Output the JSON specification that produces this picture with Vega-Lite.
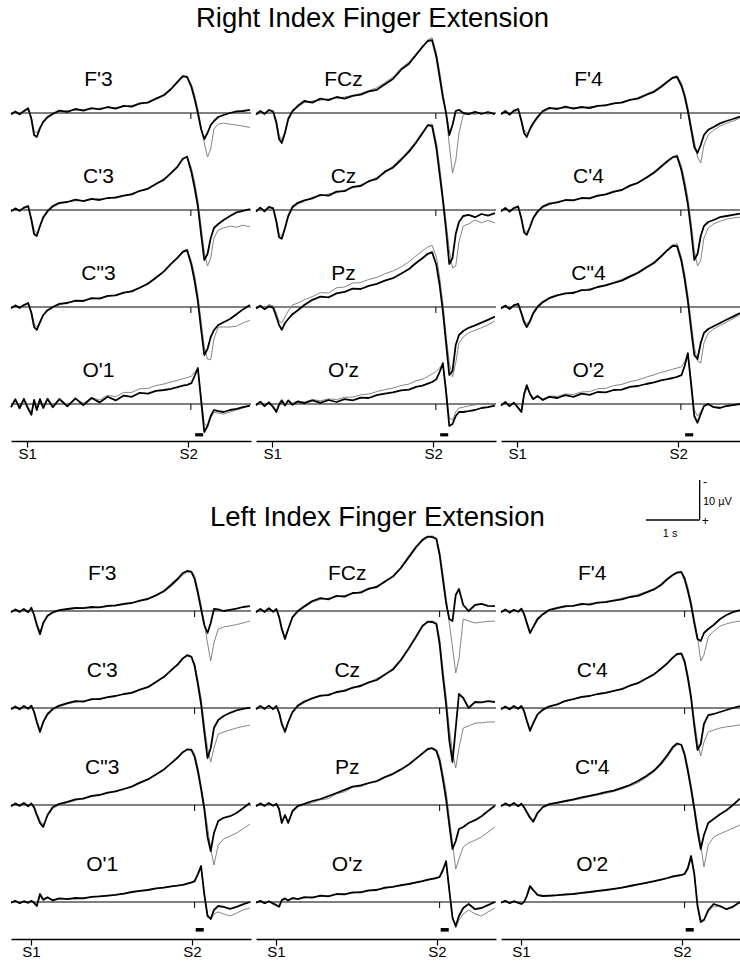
{
"$schema":"https://vega.github.io/schema/vega-lite/v6.json",
"background":"white",
"padding":{"left":10,"top":5,"right":0,"bottom":0},
"spacing":14,
"config":{"view":{"stroke":null},"font":"Liberation Sans","axis":{"grid":false}},
"datasets":{
"right":[
{"r":1,"c":1,"e":"F'3"},{"r":1,"c":2,"e":"FCz"},{"r":1,"c":3,"e":"F'4"},
{"r":2,"c":1,"e":"C'3"},{"r":2,"c":2,"e":"Cz"},{"r":2,"c":3,"e":"C'4"},
{"r":3,"c":1,"e":"C\"3"},{"r":3,"c":2,"e":"Pz"},{"r":3,"c":3,"e":"C\"4"},
{"r":4,"c":1,"e":"O'1"},{"r":4,"c":2,"e":"O'z"},{"r":4,"c":3,"e":"O'2"},
{"r":1,"c":1,"t":-0.3,"a":0.3,"b":0.1},{"r":1,"c":1,"t":-0.22,"a":-0.4,"b":-0.2},{"r":1,"c":1,"t":-0.14,"a":0.3,"b":0.5},{"r":1,"c":1,"t":-0.06,"a":-0.5,"b":-0.3},{"r":1,"c":1,"t":0.02,"a":-1.2,"b":-0.9},{"r":1,"c":1,"t":0.08,"a":1.5,"b":1.2},{"r":1,"c":1,"t":0.13,"a":5.5,"b":4.5},{"r":1,"c":1,"t":0.18,"a":6,"b":5},{"r":1,"c":1,"t":0.24,"a":3.8,"b":3.5},{"r":1,"c":1,"t":0.3,"a":2.2,"b":2.4},{"r":1,"c":1,"t":0.38,"a":1.0,"b":1.3},{"r":1,"c":1,"t":0.48,"a":0.2,"b":0.4},{"r":1,"c":1,"t":0.6,"a":-0.6,"b":-0.3},{"r":1,"c":1,"t":0.75,"a":-0.3,"b":-0.6},{"r":1,"c":1,"t":0.9,"a":-1.0,"b":-0.7},{"r":1,"c":1,"t":1.05,"a":-0.6,"b":-0.9},{"r":1,"c":1,"t":1.2,"a":-1.2,"b":-1.0},{"r":1,"c":1,"t":1.35,"a":-0.9,"b":-1.2},{"r":1,"c":1,"t":1.5,"a":-1.5,"b":-1.3},{"r":1,"c":1,"t":1.65,"a":-1.1,"b":-1.4},{"r":1,"c":1,"t":1.8,"a":-1.8,"b":-1.6},{"r":1,"c":1,"t":1.95,"a":-1.6,"b":-1.9},{"r":1,"c":1,"t":2.1,"a":-2.4,"b":-2.2},{"r":1,"c":1,"t":2.25,"a":-2.6,"b":-2.8},{"r":1,"c":1,"t":2.4,"a":-3.6,"b":-3.4},{"r":1,"c":1,"t":2.55,"a":-4.5,"b":-4.3},{"r":1,"c":1,"t":2.68,"a":-6.0,"b":-5.8},{"r":1,"c":1,"t":2.8,"a":-7.8,"b":-7.5},{"r":1,"c":1,"t":2.9,"a":-9.2,"b":-9.0},{"r":1,"c":1,"t":2.98,"a":-9.0,"b":-9.2},{"r":1,"c":1,"t":3.06,"a":-6.5,"b":-7.2},{"r":1,"c":1,"t":3.12,"a":-3.5,"b":-4.5},{"r":1,"c":1,"t":3.18,"a":0,"b":-1.0},{"r":1,"c":1,"t":3.24,"a":4,"b":3.5},{"r":1,"c":1,"t":3.3,"a":6.5,"b":7.5},{"r":1,"c":1,"t":3.36,"a":5,"b":11},{"r":1,"c":1,"t":3.42,"a":3,"b":9},{"r":1,"c":1,"t":3.48,"a":2,"b":4},{"r":1,"c":1,"t":3.56,"a":1,"b":2.8},{"r":1,"c":1,"t":3.66,"a":0.5,"b":2.5},{"r":1,"c":1,"t":3.78,"a":0,"b":2.8},{"r":1,"c":1,"t":3.9,"a":-0.4,"b":3},{"r":1,"c":1,"t":4.02,"a":-0.5,"b":3.3},{"r":1,"c":1,"t":4.15,"a":-0.8,"b":3.6},
{"r":1,"c":2,"t":-0.3,"a":0.4,"b":0.1},{"r":1,"c":2,"t":-0.22,"a":-0.5,"b":-0.2},{"r":1,"c":2,"t":-0.14,"a":0.2,"b":0.4},{"r":1,"c":2,"t":-0.06,"a":-0.8,"b":-0.5},{"r":1,"c":2,"t":0.02,"a":-0.3,"b":-0.6},{"r":1,"c":2,"t":0.08,"a":2.5,"b":2.0},{"r":1,"c":2,"t":0.13,"a":6.5,"b":5.5},{"r":1,"c":2,"t":0.18,"a":7.5,"b":6.8},{"r":1,"c":2,"t":0.24,"a":5,"b":4.5},{"r":1,"c":2,"t":0.3,"a":1.5,"b":1.8},{"r":1,"c":2,"t":0.38,"a":-0.5,"b":-0.2},{"r":1,"c":2,"t":0.48,"a":-1.8,"b":-1.5},{"r":1,"c":2,"t":0.6,"a":-3.0,"b":-2.6},{"r":1,"c":2,"t":0.75,"a":-2.6,"b":-3.0},{"r":1,"c":2,"t":0.9,"a":-3.6,"b":-3.2},{"r":1,"c":2,"t":1.05,"a":-3.2,"b":-3.5},{"r":1,"c":2,"t":1.2,"a":-4.0,"b":-3.7},{"r":1,"c":2,"t":1.35,"a":-3.6,"b":-4.0},{"r":1,"c":2,"t":1.5,"a":-4.3,"b":-4.4},{"r":1,"c":2,"t":1.65,"a":-4.6,"b":-4.9},{"r":1,"c":2,"t":1.8,"a":-5.4,"b":-5.6},{"r":1,"c":2,"t":1.95,"a":-5.8,"b":-6.3},{"r":1,"c":2,"t":2.1,"a":-7.2,"b":-7.6},{"r":1,"c":2,"t":2.25,"a":-8.5,"b":-9.0},{"r":1,"c":2,"t":2.4,"a":-10.8,"b":-11.2},{"r":1,"c":2,"t":2.55,"a":-12.3,"b":-12.8},{"r":1,"c":2,"t":2.68,"a":-14.5,"b":-14.8},{"r":1,"c":2,"t":2.8,"a":-16.5,"b":-16.8},{"r":1,"c":2,"t":2.9,"a":-18,"b":-18.3},{"r":1,"c":2,"t":2.98,"a":-18.2,"b":-18.8},{"r":1,"c":2,"t":3.06,"a":-14,"b":-15},{"r":1,"c":2,"t":3.12,"a":-9,"b":-10.5},{"r":1,"c":2,"t":3.18,"a":-4,"b":-5},{"r":1,"c":2,"t":3.24,"a":0,"b":0},{"r":1,"c":2,"t":3.3,"a":5.5,"b":8},{"r":1,"c":2,"t":3.36,"a":3,"b":15},{"r":1,"c":2,"t":3.42,"a":-0.5,"b":12},{"r":1,"c":2,"t":3.48,"a":-0.8,"b":5},{"r":1,"c":2,"t":3.56,"a":0,"b":0.5},{"r":1,"c":2,"t":3.66,"a":0.3,"b":0},{"r":1,"c":2,"t":3.78,"a":-0.3,"b":0.4},{"r":1,"c":2,"t":3.9,"a":0.2,"b":-0.2},{"r":1,"c":2,"t":4.02,"a":-0.2,"b":0.3},{"r":1,"c":2,"t":4.15,"a":0.3,"b":0},
{"r":1,"c":3,"t":-0.3,"a":0.3,"b":0.0},{"r":1,"c":3,"t":-0.22,"a":-0.5,"b":-0.3},{"r":1,"c":3,"t":-0.14,"a":0.4,"b":0.5},{"r":1,"c":3,"t":-0.06,"a":-0.6,"b":-0.2},{"r":1,"c":3,"t":0.02,"a":-1.0,"b":-0.7},{"r":1,"c":3,"t":0.08,"a":2.0,"b":1.6},{"r":1,"c":3,"t":0.13,"a":5.0,"b":4.2},{"r":1,"c":3,"t":0.18,"a":6.0,"b":5.2},{"r":1,"c":3,"t":0.24,"a":4.0,"b":4.2},{"r":1,"c":3,"t":0.3,"a":2.5,"b":2.8},{"r":1,"c":3,"t":0.38,"a":1.0,"b":1.4},{"r":1,"c":3,"t":0.48,"a":-0.5,"b":-0.2},{"r":1,"c":3,"t":0.6,"a":-1.3,"b":-1.0},{"r":1,"c":3,"t":0.75,"a":-1.0,"b":-1.3},{"r":1,"c":3,"t":0.9,"a":-1.6,"b":-1.2},{"r":1,"c":3,"t":1.05,"a":-1.1,"b":-1.4},{"r":1,"c":3,"t":1.2,"a":-1.5,"b":-1.3},{"r":1,"c":3,"t":1.35,"a":-1.2,"b":-1.6},{"r":1,"c":3,"t":1.5,"a":-1.8,"b":-1.7},{"r":1,"c":3,"t":1.65,"a":-1.9,"b":-2.1},{"r":1,"c":3,"t":1.8,"a":-2.4,"b":-2.3},{"r":1,"c":3,"t":1.95,"a":-2.6,"b":-2.8},{"r":1,"c":3,"t":2.1,"a":-3.3,"b":-3.2},{"r":1,"c":3,"t":2.25,"a":-3.6,"b":-3.9},{"r":1,"c":3,"t":2.4,"a":-4.5,"b":-4.7},{"r":1,"c":3,"t":2.55,"a":-5.3,"b":-5.6},{"r":1,"c":3,"t":2.68,"a":-6.5,"b":-6.8},{"r":1,"c":3,"t":2.8,"a":-7.8,"b":-8.0},{"r":1,"c":3,"t":2.9,"a":-8.8,"b":-9.0},{"r":1,"c":3,"t":2.98,"a":-9.0,"b":-9.3},{"r":1,"c":3,"t":3.06,"a":-6.8,"b":-7.5},{"r":1,"c":3,"t":3.12,"a":-4.2,"b":-5.0},{"r":1,"c":3,"t":3.18,"a":-0.5,"b":-1.5},{"r":1,"c":3,"t":3.24,"a":4,"b":3},{"r":1,"c":3,"t":3.3,"a":8.5,"b":7},{"r":1,"c":3,"t":3.36,"a":10,"b":11},{"r":1,"c":3,"t":3.42,"a":8,"b":12.5},{"r":1,"c":3,"t":3.48,"a":5.5,"b":8},{"r":1,"c":3,"t":3.56,"a":4.2,"b":5.5},{"r":1,"c":3,"t":3.66,"a":3.5,"b":4.3},{"r":1,"c":3,"t":3.78,"a":2.6,"b":3.3},{"r":1,"c":3,"t":3.9,"a":2.0,"b":2.6},{"r":1,"c":3,"t":4.02,"a":1.5,"b":2.0},{"r":1,"c":3,"t":4.15,"a":0.9,"b":1.3},
{"r":2,"c":1,"t":-0.3,"a":0.3,"b":0.1},{"r":2,"c":1,"t":-0.22,"a":-0.4,"b":-0.2},{"r":2,"c":1,"t":-0.14,"a":0.2,"b":0.4},{"r":2,"c":1,"t":-0.06,"a":-0.6,"b":-0.4},{"r":2,"c":1,"t":0.02,"a":-1.0,"b":-0.7},{"r":2,"c":1,"t":0.08,"a":2.5,"b":2.0},{"r":2,"c":1,"t":0.13,"a":6.0,"b":5.0},{"r":2,"c":1,"t":0.18,"a":6.5,"b":5.8},{"r":2,"c":1,"t":0.24,"a":4.0,"b":4.2},{"r":2,"c":1,"t":0.3,"a":1.8,"b":2.2},{"r":2,"c":1,"t":0.38,"a":0.3,"b":0.6},{"r":2,"c":1,"t":0.48,"a":-1.0,"b":-0.7},{"r":2,"c":1,"t":0.6,"a":-1.8,"b":-1.5},{"r":2,"c":1,"t":0.75,"a":-2.0,"b":-2.1},{"r":2,"c":1,"t":0.9,"a":-2.6,"b":-2.3},{"r":2,"c":1,"t":1.05,"a":-2.2,"b":-2.4},{"r":2,"c":1,"t":1.2,"a":-2.8,"b":-2.6},{"r":2,"c":1,"t":1.35,"a":-2.5,"b":-2.8},{"r":2,"c":1,"t":1.5,"a":-3.0,"b":-3.0},{"r":2,"c":1,"t":1.65,"a":-3.1,"b":-3.3},{"r":2,"c":1,"t":1.8,"a":-3.6,"b":-3.6},{"r":2,"c":1,"t":1.95,"a":-3.9,"b":-4.1},{"r":2,"c":1,"t":2.1,"a":-4.8,"b":-4.7},{"r":2,"c":1,"t":2.25,"a":-5.3,"b":-5.5},{"r":2,"c":1,"t":2.4,"a":-6.5,"b":-6.6},{"r":2,"c":1,"t":2.55,"a":-7.6,"b":-7.8},{"r":2,"c":1,"t":2.68,"a":-9.2,"b":-9.3},{"r":2,"c":1,"t":2.8,"a":-10.8,"b":-11.0},{"r":2,"c":1,"t":2.9,"a":-12.8,"b":-12.6},{"r":2,"c":1,"t":2.98,"a":-13.3,"b":-13.4},{"r":2,"c":1,"t":3.06,"a":-9.5,"b":-10.5},{"r":2,"c":1,"t":3.12,"a":-5.5,"b":-7.0},{"r":2,"c":1,"t":3.18,"a":-1.0,"b":-2.5},{"r":2,"c":1,"t":3.24,"a":6,"b":4},{"r":2,"c":1,"t":3.3,"a":12.5,"b":10.5},{"r":2,"c":1,"t":3.36,"a":11,"b":14},{"r":2,"c":1,"t":3.42,"a":7,"b":12},{"r":2,"c":1,"t":3.48,"a":4.5,"b":7},{"r":2,"c":1,"t":3.56,"a":3.5,"b":5},{"r":2,"c":1,"t":3.66,"a":2.5,"b":4.5},{"r":2,"c":1,"t":3.78,"a":1.5,"b":4.0},{"r":2,"c":1,"t":3.9,"a":0.6,"b":4.3},{"r":2,"c":1,"t":4.02,"a":0.2,"b":3.8},{"r":2,"c":1,"t":4.15,"a":-0.2,"b":4.2},
{"r":2,"c":2,"t":-0.3,"a":0.4,"b":0.2},{"r":2,"c":2,"t":-0.22,"a":-0.6,"b":-0.3},{"r":2,"c":2,"t":-0.14,"a":0.3,"b":0.5},{"r":2,"c":2,"t":-0.06,"a":-0.8,"b":-0.5},{"r":2,"c":2,"t":0.02,"a":-0.4,"b":-0.6},{"r":2,"c":2,"t":0.08,"a":3.0,"b":2.4},{"r":2,"c":2,"t":0.13,"a":6.8,"b":6.0},{"r":2,"c":2,"t":0.18,"a":7.2,"b":6.6},{"r":2,"c":2,"t":0.24,"a":4.5,"b":4.6},{"r":2,"c":2,"t":0.3,"a":1.5,"b":1.8},{"r":2,"c":2,"t":0.38,"a":-0.8,"b":-0.4},{"r":2,"c":2,"t":0.48,"a":-1.8,"b":-1.5},{"r":2,"c":2,"t":0.6,"a":-2.4,"b":-2.2},{"r":2,"c":2,"t":0.75,"a":-2.9,"b":-3.2},{"r":2,"c":2,"t":0.9,"a":-3.8,"b":-3.5},{"r":2,"c":2,"t":1.05,"a":-3.6,"b":-4.0},{"r":2,"c":2,"t":1.2,"a":-4.6,"b":-4.3},{"r":2,"c":2,"t":1.35,"a":-4.7,"b":-5.0},{"r":2,"c":2,"t":1.5,"a":-5.8,"b":-5.5},{"r":2,"c":2,"t":1.65,"a":-6.0,"b":-6.3},{"r":2,"c":2,"t":1.8,"a":-7.2,"b":-7.0},{"r":2,"c":2,"t":1.95,"a":-7.8,"b":-8.2},{"r":2,"c":2,"t":2.1,"a":-9.6,"b":-9.2},{"r":2,"c":2,"t":2.25,"a":-10.6,"b":-11.0},{"r":2,"c":2,"t":2.4,"a":-12.5,"b":-12.9},{"r":2,"c":2,"t":2.55,"a":-14.6,"b":-15.0},{"r":2,"c":2,"t":2.68,"a":-16.8,"b":-17.2},{"r":2,"c":2,"t":2.8,"a":-19.2,"b":-19.5},{"r":2,"c":2,"t":2.9,"a":-21.2,"b":-21.2},{"r":2,"c":2,"t":2.98,"a":-21.0,"b":-21.5},{"r":2,"c":2,"t":3.06,"a":-15.5,"b":-17},{"r":2,"c":2,"t":3.12,"a":-9,"b":-11},{"r":2,"c":2,"t":3.18,"a":-2.5,"b":-4},{"r":2,"c":2,"t":3.24,"a":5,"b":3},{"r":2,"c":2,"t":3.3,"a":13.5,"b":10},{"r":2,"c":2,"t":3.36,"a":12,"b":14.5},{"r":2,"c":2,"t":3.42,"a":6,"b":14},{"r":2,"c":2,"t":3.48,"a":3,"b":8},{"r":2,"c":2,"t":3.56,"a":1.5,"b":4},{"r":2,"c":2,"t":3.66,"a":1.2,"b":3.5},{"r":2,"c":2,"t":3.78,"a":1.8,"b":2.5},{"r":2,"c":2,"t":3.9,"a":1.0,"b":3.2},{"r":2,"c":2,"t":4.02,"a":1.4,"b":2.6},{"r":2,"c":2,"t":4.15,"a":0.8,"b":3.2},
{"r":2,"c":3,"t":-0.3,"a":0.3,"b":0.1},{"r":2,"c":3,"t":-0.22,"a":-0.5,"b":-0.2},{"r":2,"c":3,"t":-0.14,"a":0.4,"b":0.5},{"r":2,"c":3,"t":-0.06,"a":-0.5,"b":-0.3},{"r":2,"c":3,"t":0.02,"a":-0.9,"b":-0.6},{"r":2,"c":3,"t":0.08,"a":2.2,"b":1.8},{"r":2,"c":3,"t":0.13,"a":5.6,"b":4.8},{"r":2,"c":3,"t":0.18,"a":6.2,"b":5.6},{"r":2,"c":3,"t":0.24,"a":4.2,"b":4.4},{"r":2,"c":3,"t":0.3,"a":2.0,"b":2.3},{"r":2,"c":3,"t":0.38,"a":0.4,"b":0.7},{"r":2,"c":3,"t":0.48,"a":-0.9,"b":-0.6},{"r":2,"c":3,"t":0.6,"a":-1.6,"b":-1.3},{"r":2,"c":3,"t":0.75,"a":-1.9,"b":-2.1},{"r":2,"c":3,"t":0.9,"a":-2.5,"b":-2.3},{"r":2,"c":3,"t":1.05,"a":-2.4,"b":-2.6},{"r":2,"c":3,"t":1.2,"a":-3.0,"b":-2.8},{"r":2,"c":3,"t":1.35,"a":-2.9,"b":-3.1},{"r":2,"c":3,"t":1.5,"a":-3.6,"b":-3.4},{"r":2,"c":3,"t":1.65,"a":-3.9,"b":-3.8},{"r":2,"c":3,"t":1.8,"a":-4.6,"b":-4.4},{"r":2,"c":3,"t":1.95,"a":-5.0,"b":-5.1},{"r":2,"c":3,"t":2.1,"a":-6.1,"b":-5.9},{"r":2,"c":3,"t":2.25,"a":-6.8,"b":-6.9},{"r":2,"c":3,"t":2.4,"a":-8.0,"b":-8.2},{"r":2,"c":3,"t":2.55,"a":-9.3,"b":-9.6},{"r":2,"c":3,"t":2.68,"a":-10.8,"b":-11.0},{"r":2,"c":3,"t":2.8,"a":-12.2,"b":-12.4},{"r":2,"c":3,"t":2.9,"a":-13.2,"b":-13.3},{"r":2,"c":3,"t":2.98,"a":-13.4,"b":-13.8},{"r":2,"c":3,"t":3.06,"a":-10,"b":-11},{"r":2,"c":3,"t":3.12,"a":-6,"b":-7.5},{"r":2,"c":3,"t":3.18,"a":-1.5,"b":-3},{"r":2,"c":3,"t":3.24,"a":5,"b":3},{"r":2,"c":3,"t":3.3,"a":12.5,"b":10},{"r":2,"c":3,"t":3.36,"a":11,"b":14},{"r":2,"c":3,"t":3.42,"a":6.5,"b":12.5},{"r":2,"c":3,"t":3.48,"a":4,"b":7},{"r":2,"c":3,"t":3.56,"a":3,"b":4.5},{"r":2,"c":3,"t":3.66,"a":2.5,"b":3.5},{"r":2,"c":3,"t":3.78,"a":1.8,"b":2.8},{"r":2,"c":3,"t":3.9,"a":1.5,"b":2.3},{"r":2,"c":3,"t":4.02,"a":1.2,"b":2.0},{"r":2,"c":3,"t":4.15,"a":0.9,"b":1.8},
{"r":3,"c":1,"t":-0.3,"a":0.3,"b":0.1},{"r":3,"c":1,"t":-0.22,"a":-0.4,"b":-0.2},{"r":3,"c":1,"t":-0.14,"a":0.2,"b":0.4},{"r":3,"c":1,"t":-0.06,"a":-0.5,"b":-0.3},{"r":3,"c":1,"t":0.02,"a":-1.0,"b":-0.7},{"r":3,"c":1,"t":0.08,"a":1.5,"b":1.2},{"r":3,"c":1,"t":0.13,"a":5.0,"b":4.2},{"r":3,"c":1,"t":0.18,"a":5.7,"b":5.0},{"r":3,"c":1,"t":0.24,"a":3.8,"b":4.0},{"r":3,"c":1,"t":0.3,"a":2.0,"b":2.2},{"r":3,"c":1,"t":0.38,"a":0.8,"b":1.0},{"r":3,"c":1,"t":0.48,"a":0.0,"b":0.2},{"r":3,"c":1,"t":0.6,"a":-0.8,"b":-0.5},{"r":3,"c":1,"t":0.75,"a":-1.0,"b":-1.2},{"r":3,"c":1,"t":0.9,"a":-1.6,"b":-1.4},{"r":3,"c":1,"t":1.05,"a":-1.5,"b":-1.7},{"r":3,"c":1,"t":1.2,"a":-2.2,"b":-2.0},{"r":3,"c":1,"t":1.35,"a":-2.1,"b":-2.3},{"r":3,"c":1,"t":1.5,"a":-2.8,"b":-2.6},{"r":3,"c":1,"t":1.65,"a":-2.9,"b":-3.0},{"r":3,"c":1,"t":1.8,"a":-3.6,"b":-3.5},{"r":3,"c":1,"t":1.95,"a":-3.9,"b":-4.1},{"r":3,"c":1,"t":2.1,"a":-4.8,"b":-4.9},{"r":3,"c":1,"t":2.25,"a":-5.8,"b":-6.0},{"r":3,"c":1,"t":2.4,"a":-7.3,"b":-7.5},{"r":3,"c":1,"t":2.55,"a":-8.9,"b":-9.0},{"r":3,"c":1,"t":2.68,"a":-10.8,"b":-10.9},{"r":3,"c":1,"t":2.8,"a":-12.3,"b":-12.5},{"r":3,"c":1,"t":2.9,"a":-13.8,"b":-13.9},{"r":3,"c":1,"t":2.98,"a":-14.2,"b":-14.5},{"r":3,"c":1,"t":3.06,"a":-10.5,"b":-11.5},{"r":3,"c":1,"t":3.12,"a":-6.5,"b":-8},{"r":3,"c":1,"t":3.18,"a":-1.5,"b":-3},{"r":3,"c":1,"t":3.24,"a":5.5,"b":3.5},{"r":3,"c":1,"t":3.3,"a":12,"b":10},{"r":3,"c":1,"t":3.36,"a":10.5,"b":13},{"r":3,"c":1,"t":3.42,"a":7.5,"b":13.2},{"r":3,"c":1,"t":3.48,"a":5.8,"b":8},{"r":3,"c":1,"t":3.56,"a":4.5,"b":5},{"r":3,"c":1,"t":3.66,"a":3.8,"b":5},{"r":3,"c":1,"t":3.78,"a":3.0,"b":5},{"r":3,"c":1,"t":3.9,"a":1.8,"b":4.8},{"r":3,"c":1,"t":4.02,"a":0.6,"b":4},{"r":3,"c":1,"t":4.15,"a":-0.5,"b":3.3},
{"r":3,"c":2,"t":-0.3,"a":0.4,"b":0.2},{"r":3,"c":2,"t":-0.22,"a":-0.3,"b":-0.5},{"r":3,"c":2,"t":-0.14,"a":0.6,"b":0.3},{"r":3,"c":2,"t":-0.06,"a":-0.2,"b":-0.6},{"r":3,"c":2,"t":0.02,"a":0.2,"b":-0.3},{"r":3,"c":2,"t":0.08,"a":2.5,"b":1.5},{"r":3,"c":2,"t":0.13,"a":4.5,"b":3.5},{"r":3,"c":2,"t":0.18,"a":5.7,"b":4.0},{"r":3,"c":2,"t":0.24,"a":4.0,"b":2.5},{"r":3,"c":2,"t":0.3,"a":3.0,"b":1.0},{"r":3,"c":2,"t":0.38,"a":1.8,"b":-0.5},{"r":3,"c":2,"t":0.48,"a":0.8,"b":-1.0},{"r":3,"c":2,"t":0.6,"a":-0.5,"b":-1.8},{"r":3,"c":2,"t":0.75,"a":-1.8,"b":-2.6},{"r":3,"c":2,"t":0.9,"a":-2.6,"b":-3.6},{"r":3,"c":2,"t":1.05,"a":-2.4,"b":-3.5},{"r":3,"c":2,"t":1.2,"a":-3.4,"b":-4.8},{"r":3,"c":2,"t":1.35,"a":-3.8,"b":-5.0},{"r":3,"c":2,"t":1.5,"a":-4.6,"b":-6.0},{"r":3,"c":2,"t":1.65,"a":-4.5,"b":-6.1},{"r":3,"c":2,"t":1.8,"a":-5.3,"b":-6.9},{"r":3,"c":2,"t":1.95,"a":-5.8,"b":-7.4},{"r":3,"c":2,"t":2.1,"a":-6.6,"b":-8.3},{"r":3,"c":2,"t":2.25,"a":-7.2,"b":-9.0},{"r":3,"c":2,"t":2.4,"a":-8.3,"b":-10.0},{"r":3,"c":2,"t":2.55,"a":-9.5,"b":-11.3},{"r":3,"c":2,"t":2.68,"a":-11.0,"b":-12.8},{"r":3,"c":2,"t":2.8,"a":-12.2,"b":-14.0},{"r":3,"c":2,"t":2.9,"a":-13.3,"b":-15.0},{"r":3,"c":2,"t":2.98,"a":-13.7,"b":-15.4},{"r":3,"c":2,"t":3.06,"a":-10.5,"b":-12.5},{"r":3,"c":2,"t":3.12,"a":-5.5,"b":-7.5},{"r":3,"c":2,"t":3.18,"a":1,"b":-1},{"r":3,"c":2,"t":3.24,"a":9,"b":7},{"r":3,"c":2,"t":3.3,"a":17,"b":14},{"r":3,"c":2,"t":3.36,"a":16,"b":17.5},{"r":3,"c":2,"t":3.42,"a":9.5,"b":14},{"r":3,"c":2,"t":3.48,"a":7,"b":9},{"r":3,"c":2,"t":3.56,"a":6,"b":7.5},{"r":3,"c":2,"t":3.66,"a":5.2,"b":6.5},{"r":3,"c":2,"t":3.78,"a":4.6,"b":5.8},{"r":3,"c":2,"t":3.9,"a":3.9,"b":5.2},{"r":3,"c":2,"t":4.02,"a":3.2,"b":4.5},{"r":3,"c":2,"t":4.15,"a":2.4,"b":3.5},
{"r":3,"c":3,"t":-0.3,"a":0.4,"b":0.1},{"r":3,"c":3,"t":-0.22,"a":-0.3,"b":-0.5},{"r":3,"c":3,"t":-0.14,"a":0.5,"b":0.2},{"r":3,"c":3,"t":-0.06,"a":-0.4,"b":-0.6},{"r":3,"c":3,"t":0.02,"a":-0.8,"b":-0.5},{"r":3,"c":3,"t":0.08,"a":1.6,"b":1.2},{"r":3,"c":3,"t":0.13,"a":3.8,"b":3.2},{"r":3,"c":3,"t":0.18,"a":5.0,"b":4.3},{"r":3,"c":3,"t":0.24,"a":3.6,"b":3.2},{"r":3,"c":3,"t":0.3,"a":1.6,"b":1.2},{"r":3,"c":3,"t":0.38,"a":0.0,"b":-0.4},{"r":3,"c":3,"t":0.48,"a":-1.2,"b":-1.5},{"r":3,"c":3,"t":0.6,"a":-2.2,"b":-2.4},{"r":3,"c":3,"t":0.75,"a":-2.9,"b":-3.1},{"r":3,"c":3,"t":0.9,"a":-3.4,"b":-3.3},{"r":3,"c":3,"t":1.05,"a":-3.5,"b":-3.8},{"r":3,"c":3,"t":1.2,"a":-4.2,"b":-4.1},{"r":3,"c":3,"t":1.35,"a":-4.3,"b":-4.6},{"r":3,"c":3,"t":1.5,"a":-5.0,"b":-4.9},{"r":3,"c":3,"t":1.65,"a":-5.4,"b":-5.6},{"r":3,"c":3,"t":1.8,"a":-6.0,"b":-6.2},{"r":3,"c":3,"t":1.95,"a":-6.6,"b":-6.9},{"r":3,"c":3,"t":2.1,"a":-7.6,"b":-7.8},{"r":3,"c":3,"t":2.25,"a":-8.5,"b":-8.8},{"r":3,"c":3,"t":2.4,"a":-9.8,"b":-10.0},{"r":3,"c":3,"t":2.55,"a":-11.0,"b":-11.3},{"r":3,"c":3,"t":2.68,"a":-12.6,"b":-12.9},{"r":3,"c":3,"t":2.8,"a":-14.2,"b":-14.4},{"r":3,"c":3,"t":2.9,"a":-15.3,"b":-15.6},{"r":3,"c":3,"t":2.98,"a":-15.2,"b":-15.8},{"r":3,"c":3,"t":3.06,"a":-11.5,"b":-12.5},{"r":3,"c":3,"t":3.12,"a":-7,"b":-8.5},{"r":3,"c":3,"t":3.18,"a":-1.5,"b":-3},{"r":3,"c":3,"t":3.24,"a":5.5,"b":3.5},{"r":3,"c":3,"t":3.3,"a":12,"b":10},{"r":3,"c":3,"t":3.36,"a":13,"b":13.5},{"r":3,"c":3,"t":3.42,"a":9,"b":14},{"r":3,"c":3,"t":3.48,"a":6.5,"b":9},{"r":3,"c":3,"t":3.56,"a":5.5,"b":6.5},{"r":3,"c":3,"t":3.66,"a":4.8,"b":5.5},{"r":3,"c":3,"t":3.78,"a":4.0,"b":4.6},{"r":3,"c":3,"t":3.9,"a":3.2,"b":3.8},{"r":3,"c":3,"t":4.02,"a":2.4,"b":2.9},{"r":3,"c":3,"t":4.15,"a":1.5,"b":2.0},
{"r":4,"c":1,"t":-0.3,"a":0.8,"b":0.5},{"r":4,"c":1,"t":-0.22,"a":-1.2,"b":-0.9},{"r":4,"c":1,"t":-0.14,"a":1.0,"b":1.3},{"r":4,"c":1,"t":-0.06,"a":-1.3,"b":-1.0},{"r":4,"c":1,"t":0.02,"a":1.2,"b":0.8},{"r":4,"c":1,"t":0.08,"a":2.7,"b":2.2},{"r":4,"c":1,"t":0.13,"a":-1.0,"b":-0.6},{"r":4,"c":1,"t":0.18,"a":1.5,"b":1.2},{"r":4,"c":1,"t":0.24,"a":-1.2,"b":-1.4},{"r":4,"c":1,"t":0.3,"a":1.0,"b":0.7},{"r":4,"c":1,"t":0.38,"a":-1.3,"b":-1.0},{"r":4,"c":1,"t":0.48,"a":0.8,"b":0.5},{"r":4,"c":1,"t":0.6,"a":-1.2,"b":-1.5},{"r":4,"c":1,"t":0.75,"a":0.6,"b":0.2},{"r":4,"c":1,"t":0.9,"a":-1.4,"b":-1.2},{"r":4,"c":1,"t":1.05,"a":0.3,"b":-0.2},{"r":4,"c":1,"t":1.2,"a":-1.5,"b":-1.6},{"r":4,"c":1,"t":1.35,"a":-0.4,"b":-1.0},{"r":4,"c":1,"t":1.5,"a":-1.8,"b":-2.2},{"r":4,"c":1,"t":1.65,"a":-0.9,"b":-1.8},{"r":4,"c":1,"t":1.8,"a":-2.1,"b":-2.9},{"r":4,"c":1,"t":1.95,"a":-1.8,"b":-2.9},{"r":4,"c":1,"t":2.1,"a":-2.8,"b":-3.8},{"r":4,"c":1,"t":2.25,"a":-2.6,"b":-3.9},{"r":4,"c":1,"t":2.4,"a":-3.3,"b":-4.6},{"r":4,"c":1,"t":2.55,"a":-3.5,"b":-5.0},{"r":4,"c":1,"t":2.68,"a":-3.8,"b":-5.5},{"r":4,"c":1,"t":2.8,"a":-4.2,"b":-5.9},{"r":4,"c":1,"t":2.9,"a":-4.6,"b":-6.3},{"r":4,"c":1,"t":2.98,"a":-4.8,"b":-6.6},{"r":4,"c":1,"t":3.06,"a":-5.2,"b":-6.9},{"r":4,"c":1,"t":3.12,"a":-7.0,"b":-8.0},{"r":4,"c":1,"t":3.18,"a":-9.0,"b":-8.8},{"r":4,"c":1,"t":3.24,"a":-1,"b":-2},{"r":4,"c":1,"t":3.3,"a":7,"b":5},{"r":4,"c":1,"t":3.36,"a":5.5,"b":5.5},{"r":4,"c":1,"t":3.42,"a":3,"b":3.5},{"r":4,"c":1,"t":3.48,"a":1.5,"b":2},{"r":4,"c":1,"t":3.56,"a":1.8,"b":2.3},{"r":4,"c":1,"t":3.66,"a":2.0,"b":2.5},{"r":4,"c":1,"t":3.78,"a":1.5,"b":2.0},{"r":4,"c":1,"t":3.9,"a":1.2,"b":1.5},{"r":4,"c":1,"t":4.02,"a":0.8,"b":1.0},{"r":4,"c":1,"t":4.15,"a":0.4,"b":0.5},
{"r":4,"c":2,"t":-0.3,"a":0.3,"b":0.1},{"r":4,"c":2,"t":-0.22,"a":-0.6,"b":-0.3},{"r":4,"c":2,"t":-0.14,"a":0.5,"b":0.7},{"r":4,"c":2,"t":-0.06,"a":-0.4,"b":-0.6},{"r":4,"c":2,"t":0.02,"a":0.8,"b":0.5},{"r":4,"c":2,"t":0.08,"a":2.0,"b":1.6},{"r":4,"c":2,"t":0.13,"a":0.2,"b":-0.3},{"r":4,"c":2,"t":0.18,"a":-0.8,"b":-1.2},{"r":4,"c":2,"t":0.24,"a":0.4,"b":0.1},{"r":4,"c":2,"t":0.3,"a":-0.9,"b":-1.0},{"r":4,"c":2,"t":0.38,"a":0.2,"b":-0.2},{"r":4,"c":2,"t":0.48,"a":-0.6,"b":-0.8},{"r":4,"c":2,"t":0.6,"a":-0.2,"b":-0.5},{"r":4,"c":2,"t":0.75,"a":-0.9,"b":-1.1},{"r":4,"c":2,"t":0.9,"a":-0.3,"b":-0.8},{"r":4,"c":2,"t":1.05,"a":-1.0,"b":-1.3},{"r":4,"c":2,"t":1.2,"a":-0.5,"b":-1.1},{"r":4,"c":2,"t":1.35,"a":-1.2,"b":-1.7},{"r":4,"c":2,"t":1.5,"a":-0.9,"b":-1.7},{"r":4,"c":2,"t":1.65,"a":-1.6,"b":-2.3},{"r":4,"c":2,"t":1.8,"a":-1.5,"b":-2.5},{"r":4,"c":2,"t":1.95,"a":-2.2,"b":-3.1},{"r":4,"c":2,"t":2.1,"a":-2.6,"b":-3.6},{"r":4,"c":2,"t":2.25,"a":-2.9,"b":-4.0},{"r":4,"c":2,"t":2.4,"a":-3.4,"b":-4.6},{"r":4,"c":2,"t":2.55,"a":-3.6,"b":-5.0},{"r":4,"c":2,"t":2.68,"a":-4.3,"b":-5.8},{"r":4,"c":2,"t":2.8,"a":-4.6,"b":-6.2},{"r":4,"c":2,"t":2.9,"a":-5.1,"b":-6.9},{"r":4,"c":2,"t":2.98,"a":-5.5,"b":-7.5},{"r":4,"c":2,"t":3.06,"a":-6.2,"b":-8.2},{"r":4,"c":2,"t":3.12,"a":-8.0,"b":-9.0},{"r":4,"c":2,"t":3.18,"a":-10.2,"b":-10.0},{"r":4,"c":2,"t":3.24,"a":-3,"b":-4},{"r":4,"c":2,"t":3.3,"a":5.5,"b":3.5},{"r":4,"c":2,"t":3.36,"a":5,"b":4},{"r":4,"c":2,"t":3.42,"a":3,"b":2},{"r":4,"c":2,"t":3.48,"a":2,"b":1},{"r":4,"c":2,"t":3.56,"a":2,"b":0.8},{"r":4,"c":2,"t":3.66,"a":1.8,"b":0.5},{"r":4,"c":2,"t":3.78,"a":1.5,"b":0.2},{"r":4,"c":2,"t":3.9,"a":1.0,"b":0.0},{"r":4,"c":2,"t":4.02,"a":0.8,"b":-0.2},{"r":4,"c":2,"t":4.15,"a":0.4,"b":0.0},
{"r":4,"c":3,"t":-0.3,"a":0.4,"b":0.2},{"r":4,"c":3,"t":-0.22,"a":-0.5,"b":-0.2},{"r":4,"c":3,"t":-0.14,"a":0.5,"b":0.7},{"r":4,"c":3,"t":-0.06,"a":-0.3,"b":-0.5},{"r":4,"c":3,"t":0.02,"a":1.0,"b":0.7},{"r":4,"c":3,"t":0.08,"a":2.0,"b":1.6},{"r":4,"c":3,"t":0.13,"a":-2.5,"b":-2.0},{"r":4,"c":3,"t":0.18,"a":-4.7,"b":-4.0},{"r":4,"c":3,"t":0.24,"a":-2.5,"b":-2.8},{"r":4,"c":3,"t":0.3,"a":-1.2,"b":-1.5},{"r":4,"c":3,"t":0.38,"a":-2.0,"b":-1.8},{"r":4,"c":3,"t":0.48,"a":-1.0,"b":-1.3},{"r":4,"c":3,"t":0.6,"a":-1.8,"b":-2.0},{"r":4,"c":3,"t":0.75,"a":-1.5,"b":-1.9},{"r":4,"c":3,"t":0.9,"a":-2.2,"b":-2.5},{"r":4,"c":3,"t":1.05,"a":-1.8,"b":-2.4},{"r":4,"c":3,"t":1.2,"a":-2.6,"b":-3.0},{"r":4,"c":3,"t":1.35,"a":-2.3,"b":-3.1},{"r":4,"c":3,"t":1.5,"a":-3.0,"b":-3.8},{"r":4,"c":3,"t":1.65,"a":-2.9,"b":-3.9},{"r":4,"c":3,"t":1.8,"a":-3.5,"b":-4.6},{"r":4,"c":3,"t":1.95,"a":-3.6,"b":-4.9},{"r":4,"c":3,"t":2.1,"a":-4.3,"b":-5.6},{"r":4,"c":3,"t":2.25,"a":-4.5,"b":-6.0},{"r":4,"c":3,"t":2.4,"a":-5.0,"b":-6.7},{"r":4,"c":3,"t":2.55,"a":-5.4,"b":-7.3},{"r":4,"c":3,"t":2.68,"a":-5.9,"b":-7.9},{"r":4,"c":3,"t":2.8,"a":-6.2,"b":-8.3},{"r":4,"c":3,"t":2.9,"a":-6.5,"b":-8.7},{"r":4,"c":3,"t":2.98,"a":-6.8,"b":-9.0},{"r":4,"c":3,"t":3.06,"a":-7.2,"b":-9.3},{"r":4,"c":3,"t":3.12,"a":-9.5,"b":-10.5},{"r":4,"c":3,"t":3.18,"a":-12.7,"b":-12.5},{"r":4,"c":3,"t":3.24,"a":-5,"b":-6},{"r":4,"c":3,"t":3.3,"a":3,"b":1.5},{"r":4,"c":3,"t":3.36,"a":4.7,"b":3},{"r":4,"c":3,"t":3.42,"a":2.5,"b":2},{"r":4,"c":3,"t":3.48,"a":0.5,"b":0.5},{"r":4,"c":3,"t":3.56,"a":0,"b":0.2},{"r":4,"c":3,"t":3.66,"a":0.8,"b":0.8},{"r":4,"c":3,"t":3.78,"a":1.0,"b":0.8},{"r":4,"c":3,"t":3.9,"a":0.5,"b":0.4},{"r":4,"c":3,"t":4.02,"a":0.3,"b":0.2},{"r":4,"c":3,"t":4.15,"a":0.0,"b":0.0}
],
"left":[
{"r":1,"c":1,"e":"F'3"},{"r":1,"c":2,"e":"FCz"},{"r":1,"c":3,"e":"F'4"},
{"r":2,"c":1,"e":"C'3"},{"r":2,"c":2,"e":"Cz"},{"r":2,"c":3,"e":"C'4"},
{"r":3,"c":1,"e":"C\"3"},{"r":3,"c":2,"e":"Pz"},{"r":3,"c":3,"e":"C\"4"},
{"r":4,"c":1,"e":"O'1"},{"r":4,"c":2,"e":"O'z"},{"r":4,"c":3,"e":"O'2"},
{"r":1,"c":1,"t":-0.37,"a":0.3,"b":0.1},{"r":1,"c":1,"t":-0.29,"a":-0.4,"b":-0.2},{"r":1,"c":1,"t":-0.21,"a":0.2,"b":0.4},{"r":1,"c":1,"t":-0.13,"a":-0.5,"b":-0.3},{"r":1,"c":1,"t":-0.05,"a":0.3,"b":0.1},{"r":1,"c":1,"t":0.01,"a":-0.8,"b":-0.5},{"r":1,"c":1,"t":0.06,"a":1.0,"b":0.8},{"r":1,"c":1,"t":0.11,"a":3.5,"b":3.0},{"r":1,"c":1,"t":0.17,"a":5.8,"b":5.0},{"r":1,"c":1,"t":0.23,"a":3.0,"b":3.2},{"r":1,"c":1,"t":0.31,"a":1.2,"b":1.4},{"r":1,"c":1,"t":0.41,"a":0.3,"b":0.5},{"r":1,"c":1,"t":0.53,"a":-0.2,"b":0.0},{"r":1,"c":1,"t":0.68,"a":-0.5,"b":-0.3},{"r":1,"c":1,"t":0.83,"a":-0.8,"b":-0.6},{"r":1,"c":1,"t":0.98,"a":-0.7,"b":-0.8},{"r":1,"c":1,"t":1.13,"a":-1.0,"b":-0.8},{"r":1,"c":1,"t":1.28,"a":-0.9,"b":-1.0},{"r":1,"c":1,"t":1.43,"a":-1.3,"b":-1.1},{"r":1,"c":1,"t":1.58,"a":-1.4,"b":-1.3},{"r":1,"c":1,"t":1.73,"a":-1.8,"b":-1.6},{"r":1,"c":1,"t":1.88,"a":-2.0,"b":-2.1},{"r":1,"c":1,"t":2.03,"a":-2.6,"b":-2.4},{"r":1,"c":1,"t":2.18,"a":-3.0,"b":-3.2},{"r":1,"c":1,"t":2.33,"a":-3.9,"b":-3.9},{"r":1,"c":1,"t":2.48,"a":-5.0,"b":-4.8},{"r":1,"c":1,"t":2.61,"a":-6.5,"b":-6.1},{"r":1,"c":1,"t":2.73,"a":-8.0,"b":-7.6},{"r":1,"c":1,"t":2.83,"a":-9.5,"b":-9.0},{"r":1,"c":1,"t":2.91,"a":-10.0,"b":-9.8},{"r":1,"c":1,"t":2.99,"a":-9.8,"b":-10.0},{"r":1,"c":1,"t":3.05,"a":-8.0,"b":-8.8},{"r":1,"c":1,"t":3.11,"a":-4.5,"b":-5.5},{"r":1,"c":1,"t":3.17,"a":-0.5,"b":-1.5},{"r":1,"c":1,"t":3.23,"a":3.5,"b":3},{"r":1,"c":1,"t":3.29,"a":5.5,"b":8},{"r":1,"c":1,"t":3.35,"a":3,"b":12.5},{"r":1,"c":1,"t":3.41,"a":-0.5,"b":8},{"r":1,"c":1,"t":3.49,"a":-0.4,"b":4.5},{"r":1,"c":1,"t":3.59,"a":0,"b":4},{"r":1,"c":1,"t":3.71,"a":-0.3,"b":3.7},{"r":1,"c":1,"t":3.83,"a":-0.6,"b":3.4},{"r":1,"c":1,"t":3.95,"a":-1.0,"b":3},{"r":1,"c":1,"t":4.08,"a":-1.2,"b":2.5},
{"r":1,"c":2,"t":-0.37,"a":0.3,"b":0.1},{"r":1,"c":2,"t":-0.29,"a":-0.5,"b":-0.3},{"r":1,"c":2,"t":-0.21,"a":0.2,"b":0.4},{"r":1,"c":2,"t":-0.13,"a":-0.7,"b":-0.4},{"r":1,"c":2,"t":-0.05,"a":0.2,"b":0.0},{"r":1,"c":2,"t":0.01,"a":-0.5,"b":-0.3},{"r":1,"c":2,"t":0.06,"a":1.5,"b":1.2},{"r":1,"c":2,"t":0.11,"a":4.5,"b":4.0},{"r":1,"c":2,"t":0.17,"a":7.0,"b":6.5},{"r":1,"c":2,"t":0.23,"a":4.5,"b":4.6},{"r":1,"c":2,"t":0.31,"a":1.5,"b":1.8},{"r":1,"c":2,"t":0.41,"a":0.0,"b":0.3},{"r":1,"c":2,"t":0.53,"a":-1.2,"b":-0.9},{"r":1,"c":2,"t":0.68,"a":-2.5,"b":-2.2},{"r":1,"c":2,"t":0.83,"a":-3.2,"b":-2.9},{"r":1,"c":2,"t":0.98,"a":-2.9,"b":-3.2},{"r":1,"c":2,"t":1.13,"a":-3.8,"b":-3.5},{"r":1,"c":2,"t":1.28,"a":-3.6,"b":-3.9},{"r":1,"c":2,"t":1.43,"a":-4.5,"b":-4.3},{"r":1,"c":2,"t":1.58,"a":-4.6,"b":-4.9},{"r":1,"c":2,"t":1.73,"a":-5.6,"b":-5.4},{"r":1,"c":2,"t":1.88,"a":-6.0,"b":-6.3},{"r":1,"c":2,"t":2.03,"a":-7.4,"b":-7.1},{"r":1,"c":2,"t":2.18,"a":-8.6,"b":-8.8},{"r":1,"c":2,"t":2.33,"a":-10.8,"b":-10.6},{"r":1,"c":2,"t":2.48,"a":-13.6,"b":-13.2},{"r":1,"c":2,"t":2.61,"a":-16.0,"b":-15.6},{"r":1,"c":2,"t":2.73,"a":-17.8,"b":-17.5},{"r":1,"c":2,"t":2.83,"a":-18.6,"b":-18.4},{"r":1,"c":2,"t":2.91,"a":-18.5,"b":-18.8},{"r":1,"c":2,"t":2.99,"a":-18.0,"b":-18.3},{"r":1,"c":2,"t":3.05,"a":-14.0,"b":-15.0},{"r":1,"c":2,"t":3.11,"a":-8.0,"b":-9.5},{"r":1,"c":2,"t":3.17,"a":-2.0,"b":-3.5},{"r":1,"c":2,"t":3.23,"a":2.0,"b":3},{"r":1,"c":2,"t":3.29,"a":2.5,"b":9},{"r":1,"c":2,"t":3.35,"a":-4.0,"b":15.5},{"r":1,"c":2,"t":3.41,"a":-5.5,"b":12},{"r":1,"c":2,"t":3.49,"a":-1.5,"b":2},{"r":1,"c":2,"t":3.59,"a":0.0,"b":2.5},{"r":1,"c":2,"t":3.71,"a":-1.5,"b":3},{"r":1,"c":2,"t":3.83,"a":-1.8,"b":2.8},{"r":1,"c":2,"t":3.95,"a":-1.3,"b":2.6},{"r":1,"c":2,"t":4.08,"a":-1.2,"b":2.5},
{"r":1,"c":3,"t":-0.37,"a":0.3,"b":0.1},{"r":1,"c":3,"t":-0.29,"a":-0.4,"b":-0.2},{"r":1,"c":3,"t":-0.21,"a":0.4,"b":0.5},{"r":1,"c":3,"t":-0.13,"a":-0.3,"b":-0.1},{"r":1,"c":3,"t":-0.05,"a":0.2,"b":0.0},{"r":1,"c":3,"t":0.01,"a":-0.6,"b":-0.4},{"r":1,"c":3,"t":0.06,"a":0.8,"b":0.6},{"r":1,"c":3,"t":0.11,"a":3.0,"b":2.6},{"r":1,"c":3,"t":0.17,"a":5.5,"b":5.0},{"r":1,"c":3,"t":0.23,"a":4.0,"b":4.2},{"r":1,"c":3,"t":0.31,"a":2.0,"b":2.3},{"r":1,"c":3,"t":0.41,"a":0.8,"b":1.0},{"r":1,"c":3,"t":0.53,"a":-0.3,"b":0.0},{"r":1,"c":3,"t":0.68,"a":-0.8,"b":-0.6},{"r":1,"c":3,"t":0.83,"a":-1.2,"b":-1.0},{"r":1,"c":3,"t":0.98,"a":-1.3,"b":-1.4},{"r":1,"c":3,"t":1.13,"a":-1.8,"b":-1.5},{"r":1,"c":3,"t":1.28,"a":-1.6,"b":-1.9},{"r":1,"c":3,"t":1.43,"a":-2.1,"b":-2.0},{"r":1,"c":3,"t":1.58,"a":-2.2,"b":-2.4},{"r":1,"c":3,"t":1.73,"a":-2.6,"b":-2.7},{"r":1,"c":3,"t":1.88,"a":-2.9,"b":-3.2},{"r":1,"c":3,"t":2.03,"a":-3.5,"b":-3.6},{"r":1,"c":3,"t":2.18,"a":-3.8,"b":-4.1},{"r":1,"c":3,"t":2.33,"a":-4.6,"b":-4.8},{"r":1,"c":3,"t":2.48,"a":-5.4,"b":-5.6},{"r":1,"c":3,"t":2.61,"a":-6.5,"b":-6.7},{"r":1,"c":3,"t":2.73,"a":-8.0,"b":-8.1},{"r":1,"c":3,"t":2.83,"a":-9.0,"b":-9.1},{"r":1,"c":3,"t":2.91,"a":-9.6,"b":-9.7},{"r":1,"c":3,"t":2.99,"a":-9.7,"b":-9.9},{"r":1,"c":3,"t":3.05,"a":-8.0,"b":-8.5},{"r":1,"c":3,"t":3.11,"a":-5.0,"b":-6.0},{"r":1,"c":3,"t":3.17,"a":-1.5,"b":-2.5},{"r":1,"c":3,"t":3.23,"a":3.0,"b":2.0},{"r":1,"c":3,"t":3.29,"a":7.0,"b":6.5},{"r":1,"c":3,"t":3.35,"a":7.5,"b":12.5},{"r":1,"c":3,"t":3.41,"a":5.5,"b":11},{"r":1,"c":3,"t":3.49,"a":4.5,"b":6.5},{"r":1,"c":3,"t":3.59,"a":3.5,"b":5.0},{"r":1,"c":3,"t":3.71,"a":2.0,"b":3.8},{"r":1,"c":3,"t":3.83,"a":1.0,"b":3.2},{"r":1,"c":3,"t":3.95,"a":0.3,"b":2.8},{"r":1,"c":3,"t":4.08,"a":-0.2,"b":2.5},
{"r":2,"c":1,"t":-0.37,"a":0.3,"b":0.1},{"r":2,"c":1,"t":-0.29,"a":-0.4,"b":-0.2},{"r":2,"c":1,"t":-0.21,"a":0.3,"b":0.5},{"r":2,"c":1,"t":-0.13,"a":-0.5,"b":-0.3},{"r":2,"c":1,"t":-0.05,"a":0.2,"b":0.0},{"r":2,"c":1,"t":0.01,"a":-0.6,"b":-0.4},{"r":2,"c":1,"t":0.06,"a":1.0,"b":0.8},{"r":2,"c":1,"t":0.11,"a":3.5,"b":3.0},{"r":2,"c":1,"t":0.17,"a":6.0,"b":5.4},{"r":2,"c":1,"t":0.23,"a":3.5,"b":3.7},{"r":2,"c":1,"t":0.31,"a":1.5,"b":1.8},{"r":2,"c":1,"t":0.41,"a":0.2,"b":0.5},{"r":2,"c":1,"t":0.53,"a":-0.6,"b":-0.3},{"r":2,"c":1,"t":0.68,"a":-1.2,"b":-1.0},{"r":2,"c":1,"t":0.83,"a":-1.7,"b":-1.5},{"r":2,"c":1,"t":0.98,"a":-1.6,"b":-1.8},{"r":2,"c":1,"t":1.13,"a":-2.2,"b":-2.0},{"r":2,"c":1,"t":1.28,"a":-2.2,"b":-2.4},{"r":2,"c":1,"t":1.43,"a":-2.7,"b":-2.6},{"r":2,"c":1,"t":1.58,"a":-3.0,"b":-3.1},{"r":2,"c":1,"t":1.73,"a":-3.5,"b":-3.4},{"r":2,"c":1,"t":1.88,"a":-3.8,"b":-4.0},{"r":2,"c":1,"t":2.03,"a":-4.6,"b":-4.5},{"r":2,"c":1,"t":2.18,"a":-5.2,"b":-5.4},{"r":2,"c":1,"t":2.33,"a":-6.5,"b":-6.4},{"r":2,"c":1,"t":2.48,"a":-7.8,"b":-7.9},{"r":2,"c":1,"t":2.61,"a":-9.4,"b":-9.3},{"r":2,"c":1,"t":2.73,"a":-10.8,"b":-11.0},{"r":2,"c":1,"t":2.83,"a":-12.4,"b":-12.3},{"r":2,"c":1,"t":2.91,"a":-13.2,"b":-13.0},{"r":2,"c":1,"t":2.99,"a":-12.8,"b":-13.0},{"r":2,"c":1,"t":3.05,"a":-10.5,"b":-11.2},{"r":2,"c":1,"t":3.11,"a":-6.0,"b":-7.0},{"r":2,"c":1,"t":3.17,"a":-1.0,"b":-2.5},{"r":2,"c":1,"t":3.23,"a":6.0,"b":4.0},{"r":2,"c":1,"t":3.29,"a":12.5,"b":10.0},{"r":2,"c":1,"t":3.35,"a":10,"b":13.5},{"r":2,"c":1,"t":3.41,"a":5,"b":10},{"r":2,"c":1,"t":3.49,"a":3,"b":6.5},{"r":2,"c":1,"t":3.59,"a":2,"b":6},{"r":2,"c":1,"t":3.71,"a":1.2,"b":5.5},{"r":2,"c":1,"t":3.83,"a":0.6,"b":5},{"r":2,"c":1,"t":3.95,"a":0.2,"b":4.6},{"r":2,"c":1,"t":4.08,"a":-0.1,"b":4.3},
{"r":2,"c":2,"t":-0.37,"a":0.3,"b":0.1},{"r":2,"c":2,"t":-0.29,"a":-0.5,"b":-0.3},{"r":2,"c":2,"t":-0.21,"a":0.2,"b":0.4},{"r":2,"c":2,"t":-0.13,"a":-0.6,"b":-0.4},{"r":2,"c":2,"t":-0.05,"a":0.3,"b":0.1},{"r":2,"c":2,"t":0.01,"a":-0.5,"b":-0.3},{"r":2,"c":2,"t":0.06,"a":1.2,"b":1.0},{"r":2,"c":2,"t":0.11,"a":4.0,"b":3.5},{"r":2,"c":2,"t":0.17,"a":6.0,"b":5.5},{"r":2,"c":2,"t":0.23,"a":3.5,"b":3.8},{"r":2,"c":2,"t":0.31,"a":1.0,"b":1.3},{"r":2,"c":2,"t":0.41,"a":-0.6,"b":-0.3},{"r":2,"c":2,"t":0.53,"a":-1.6,"b":-1.3},{"r":2,"c":2,"t":0.68,"a":-2.4,"b":-2.6},{"r":2,"c":2,"t":0.83,"a":-3.1,"b":-2.9},{"r":2,"c":2,"t":0.98,"a":-3.2,"b":-3.5},{"r":2,"c":2,"t":1.13,"a":-4.0,"b":-3.8},{"r":2,"c":2,"t":1.28,"a":-4.3,"b":-4.6},{"r":2,"c":2,"t":1.43,"a":-5.1,"b":-4.9},{"r":2,"c":2,"t":1.58,"a":-5.5,"b":-5.8},{"r":2,"c":2,"t":1.73,"a":-6.4,"b":-6.3},{"r":2,"c":2,"t":1.88,"a":-7.0,"b":-7.4},{"r":2,"c":2,"t":2.03,"a":-8.4,"b":-8.2},{"r":2,"c":2,"t":2.18,"a":-9.6,"b":-10.0},{"r":2,"c":2,"t":2.33,"a":-12.0,"b":-12.2},{"r":2,"c":2,"t":2.48,"a":-15.0,"b":-15.0},{"r":2,"c":2,"t":2.61,"a":-17.8,"b":-17.6},{"r":2,"c":2,"t":2.73,"a":-20.5,"b":-20.3},{"r":2,"c":2,"t":2.83,"a":-21.6,"b":-21.4},{"r":2,"c":2,"t":2.91,"a":-21.5,"b":-21.8},{"r":2,"c":2,"t":2.99,"a":-21.0,"b":-21.4},{"r":2,"c":2,"t":3.05,"a":-16,"b":-17.5},{"r":2,"c":2,"t":3.11,"a":-8,"b":-10},{"r":2,"c":2,"t":3.17,"a":-1,"b":-3},{"r":2,"c":2,"t":3.23,"a":8,"b":5},{"r":2,"c":2,"t":3.29,"a":13.5,"b":11},{"r":2,"c":2,"t":3.35,"a":5,"b":15},{"r":2,"c":2,"t":3.41,"a":-3.5,"b":10},{"r":2,"c":2,"t":3.49,"a":-2.5,"b":5},{"r":2,"c":2,"t":3.59,"a":0,"b":4.5},{"r":2,"c":2,"t":3.71,"a":-1.5,"b":3.8},{"r":2,"c":2,"t":3.83,"a":-1.4,"b":3.7},{"r":2,"c":2,"t":3.95,"a":-1.7,"b":3.5},{"r":2,"c":2,"t":4.08,"a":-1.5,"b":3.5},
{"r":2,"c":3,"t":-0.37,"a":0.3,"b":0.1},{"r":2,"c":3,"t":-0.29,"a":-0.4,"b":-0.2},{"r":2,"c":3,"t":-0.21,"a":0.3,"b":0.5},{"r":2,"c":3,"t":-0.13,"a":-0.5,"b":-0.3},{"r":2,"c":3,"t":-0.05,"a":0.2,"b":0.0},{"r":2,"c":3,"t":0.01,"a":-0.5,"b":-0.3},{"r":2,"c":3,"t":0.06,"a":0.8,"b":0.6},{"r":2,"c":3,"t":0.11,"a":3.2,"b":2.8},{"r":2,"c":3,"t":0.17,"a":5.7,"b":5.2},{"r":2,"c":3,"t":0.23,"a":3.8,"b":4.0},{"r":2,"c":3,"t":0.31,"a":1.6,"b":1.9},{"r":2,"c":3,"t":0.41,"a":0.4,"b":0.6},{"r":2,"c":3,"t":0.53,"a":-0.4,"b":-0.2},{"r":2,"c":3,"t":0.68,"a":-0.9,"b":-1.0},{"r":2,"c":3,"t":0.83,"a":-1.8,"b":-1.6},{"r":2,"c":3,"t":0.98,"a":-2.2,"b":-2.3},{"r":2,"c":3,"t":1.13,"a":-2.8,"b":-2.6},{"r":2,"c":3,"t":1.28,"a":-3.0,"b":-3.1},{"r":2,"c":3,"t":1.43,"a":-3.5,"b":-3.4},{"r":2,"c":3,"t":1.58,"a":-3.8,"b":-3.9},{"r":2,"c":3,"t":1.73,"a":-4.3,"b":-4.2},{"r":2,"c":3,"t":1.88,"a":-4.7,"b":-4.9},{"r":2,"c":3,"t":2.03,"a":-5.6,"b":-5.5},{"r":2,"c":3,"t":2.18,"a":-6.2,"b":-6.4},{"r":2,"c":3,"t":2.33,"a":-7.3,"b":-7.4},{"r":2,"c":3,"t":2.48,"a":-8.4,"b":-8.6},{"r":2,"c":3,"t":2.61,"a":-9.8,"b":-9.9},{"r":2,"c":3,"t":2.73,"a":-11.2,"b":-11.3},{"r":2,"c":3,"t":2.83,"a":-12.6,"b":-12.5},{"r":2,"c":3,"t":2.91,"a":-13.5,"b":-13.3},{"r":2,"c":3,"t":2.99,"a":-13.6,"b":-13.8},{"r":2,"c":3,"t":3.05,"a":-11.5,"b":-12.2},{"r":2,"c":3,"t":3.11,"a":-7.5,"b":-8.5},{"r":2,"c":3,"t":3.17,"a":-2.5,"b":-3.5},{"r":2,"c":3,"t":3.23,"a":4.5,"b":3.0},{"r":2,"c":3,"t":3.29,"a":10.5,"b":8.5},{"r":2,"c":3,"t":3.35,"a":9,"b":12},{"r":2,"c":3,"t":3.41,"a":4,"b":8.5},{"r":2,"c":3,"t":3.49,"a":1.8,"b":6},{"r":2,"c":3,"t":3.59,"a":1.5,"b":5.5},{"r":2,"c":3,"t":3.71,"a":1.0,"b":5},{"r":2,"c":3,"t":3.83,"a":0.5,"b":4.7},{"r":2,"c":3,"t":3.95,"a":0,"b":4.5},{"r":2,"c":3,"t":4.08,"a":-0.5,"b":4.2},
{"r":3,"c":1,"t":-0.37,"a":0.3,"b":0.1},{"r":3,"c":1,"t":-0.29,"a":-0.4,"b":-0.2},{"r":3,"c":1,"t":-0.21,"a":0.2,"b":0.4},{"r":3,"c":1,"t":-0.13,"a":-0.5,"b":-0.3},{"r":3,"c":1,"t":-0.05,"a":0.3,"b":0.1},{"r":3,"c":1,"t":0.01,"a":-0.4,"b":-0.2},{"r":3,"c":1,"t":0.06,"a":0.6,"b":0.4},{"r":3,"c":1,"t":0.11,"a":2.5,"b":2.0},{"r":3,"c":1,"t":0.17,"a":4.5,"b":3.8},{"r":3,"c":1,"t":0.23,"a":5.5,"b":5.0},{"r":3,"c":1,"t":0.31,"a":2.5,"b":2.8},{"r":3,"c":1,"t":0.41,"a":0.5,"b":0.8},{"r":3,"c":1,"t":0.53,"a":-0.3,"b":0.0},{"r":3,"c":1,"t":0.68,"a":-0.8,"b":-0.6},{"r":3,"c":1,"t":0.83,"a":-1.4,"b":-1.1},{"r":3,"c":1,"t":0.98,"a":-1.6,"b":-1.8},{"r":3,"c":1,"t":1.13,"a":-2.3,"b":-2.1},{"r":3,"c":1,"t":1.28,"a":-2.5,"b":-2.6},{"r":3,"c":1,"t":1.43,"a":-3.1,"b":-2.9},{"r":3,"c":1,"t":1.58,"a":-3.4,"b":-3.5},{"r":3,"c":1,"t":1.73,"a":-4.0,"b":-3.9},{"r":3,"c":1,"t":1.88,"a":-4.6,"b":-4.7},{"r":3,"c":1,"t":2.03,"a":-5.6,"b":-5.4},{"r":3,"c":1,"t":2.18,"a":-6.4,"b":-6.5},{"r":3,"c":1,"t":2.33,"a":-7.6,"b":-7.7},{"r":3,"c":1,"t":2.48,"a":-8.9,"b":-9.0},{"r":3,"c":1,"t":2.61,"a":-10.4,"b":-10.5},{"r":3,"c":1,"t":2.73,"a":-11.8,"b":-12.0},{"r":3,"c":1,"t":2.83,"a":-13.2,"b":-13.2},{"r":3,"c":1,"t":2.91,"a":-13.9,"b":-13.9},{"r":3,"c":1,"t":2.99,"a":-13.8,"b":-14.0},{"r":3,"c":1,"t":3.05,"a":-12.0,"b":-12.8},{"r":3,"c":1,"t":3.11,"a":-8.5,"b":-9.5},{"r":3,"c":1,"t":3.17,"a":-4.0,"b":-5.0},{"r":3,"c":1,"t":3.23,"a":1.0,"b":0.0},{"r":3,"c":1,"t":3.29,"a":8.0,"b":5.5},{"r":3,"c":1,"t":3.35,"a":11.5,"b":11.0},{"r":3,"c":1,"t":3.41,"a":7,"b":15.0},{"r":3,"c":1,"t":3.49,"a":4,"b":10},{"r":3,"c":1,"t":3.59,"a":3.2,"b":8.5},{"r":3,"c":1,"t":3.71,"a":2.8,"b":7.8},{"r":3,"c":1,"t":3.83,"a":2.0,"b":7.0},{"r":3,"c":1,"t":3.95,"a":0.8,"b":6.0},{"r":3,"c":1,"t":4.08,"a":-0.5,"b":4.8},
{"r":3,"c":2,"t":-0.37,"a":0.3,"b":0.1},{"r":3,"c":2,"t":-0.29,"a":-0.4,"b":-0.2},{"r":3,"c":2,"t":-0.21,"a":0.2,"b":0.4},{"r":3,"c":2,"t":-0.13,"a":-0.5,"b":-0.3},{"r":3,"c":2,"t":-0.05,"a":0.2,"b":0.0},{"r":3,"c":2,"t":0.01,"a":-0.3,"b":-0.2},{"r":3,"c":2,"t":0.06,"a":1.0,"b":0.8},{"r":3,"c":2,"t":0.11,"a":4.5,"b":3.8},{"r":3,"c":2,"t":0.17,"a":2.5,"b":2.8},{"r":3,"c":2,"t":0.23,"a":4.5,"b":4.0},{"r":3,"c":2,"t":0.31,"a":1.5,"b":1.8},{"r":3,"c":2,"t":0.41,"a":0.2,"b":0.4},{"r":3,"c":2,"t":0.53,"a":-0.3,"b":0.0},{"r":3,"c":2,"t":0.68,"a":-1.0,"b":-0.6},{"r":3,"c":2,"t":0.83,"a":-1.5,"b":-1.3},{"r":3,"c":2,"t":0.98,"a":-2.2,"b":-1.6},{"r":3,"c":2,"t":1.13,"a":-3.0,"b":-2.8},{"r":3,"c":2,"t":1.28,"a":-3.8,"b":-3.3},{"r":3,"c":2,"t":1.43,"a":-4.6,"b":-4.5},{"r":3,"c":2,"t":1.58,"a":-4.9,"b":-4.6},{"r":3,"c":2,"t":1.73,"a":-5.5,"b":-5.4},{"r":3,"c":2,"t":1.88,"a":-6.0,"b":-5.8},{"r":3,"c":2,"t":2.03,"a":-7.0,"b":-6.8},{"r":3,"c":2,"t":2.18,"a":-7.8,"b":-7.6},{"r":3,"c":2,"t":2.33,"a":-8.9,"b":-8.8},{"r":3,"c":2,"t":2.48,"a":-10.2,"b":-10.0},{"r":3,"c":2,"t":2.61,"a":-11.6,"b":-11.4},{"r":3,"c":2,"t":2.73,"a":-12.9,"b":-12.7},{"r":3,"c":2,"t":2.83,"a":-14.0,"b":-13.8},{"r":3,"c":2,"t":2.91,"a":-14.2,"b":-14.3},{"r":3,"c":2,"t":2.99,"a":-13.5,"b":-13.9},{"r":3,"c":2,"t":3.05,"a":-11.0,"b":-12.0},{"r":3,"c":2,"t":3.11,"a":-6.5,"b":-8.0},{"r":3,"c":2,"t":3.17,"a":-1.5,"b":-3.5},{"r":3,"c":2,"t":3.23,"a":5.0,"b":3.0},{"r":3,"c":2,"t":3.29,"a":11.0,"b":9.5},{"r":3,"c":2,"t":3.35,"a":9.0,"b":16.0},{"r":3,"c":2,"t":3.41,"a":6.0,"b":13.5},{"r":3,"c":2,"t":3.49,"a":5.5,"b":10.5},{"r":3,"c":2,"t":3.59,"a":4.5,"b":9.5},{"r":3,"c":2,"t":3.71,"a":3.8,"b":8.8},{"r":3,"c":2,"t":3.83,"a":2.8,"b":8.0},{"r":3,"c":2,"t":3.95,"a":1.5,"b":6.8},{"r":3,"c":2,"t":4.08,"a":0.2,"b":5.5},
{"r":3,"c":3,"t":-0.37,"a":0.3,"b":0.1},{"r":3,"c":3,"t":-0.29,"a":-0.4,"b":-0.2},{"r":3,"c":3,"t":-0.21,"a":0.2,"b":0.4},{"r":3,"c":3,"t":-0.13,"a":-0.5,"b":-0.3},{"r":3,"c":3,"t":-0.05,"a":0.3,"b":0.1},{"r":3,"c":3,"t":0.01,"a":-0.3,"b":-0.2},{"r":3,"c":3,"t":0.06,"a":0.6,"b":0.4},{"r":3,"c":3,"t":0.11,"a":1.8,"b":1.5},{"r":3,"c":3,"t":0.17,"a":3.2,"b":2.8},{"r":3,"c":3,"t":0.23,"a":4.2,"b":3.8},{"r":3,"c":3,"t":0.31,"a":2.0,"b":2.2},{"r":3,"c":3,"t":0.41,"a":0.5,"b":0.7},{"r":3,"c":3,"t":0.53,"a":-0.2,"b":0.0},{"r":3,"c":3,"t":0.68,"a":-0.6,"b":-0.4},{"r":3,"c":3,"t":0.83,"a":-1.0,"b":-0.9},{"r":3,"c":3,"t":0.98,"a":-1.4,"b":-1.2},{"r":3,"c":3,"t":1.13,"a":-1.9,"b":-1.6},{"r":3,"c":3,"t":1.28,"a":-2.3,"b":-2.1},{"r":3,"c":3,"t":1.43,"a":-2.7,"b":-2.5},{"r":3,"c":3,"t":1.58,"a":-3.2,"b":-2.9},{"r":3,"c":3,"t":1.73,"a":-3.6,"b":-3.4},{"r":3,"c":3,"t":1.88,"a":-4.3,"b":-4.0},{"r":3,"c":3,"t":2.03,"a":-5.0,"b":-4.7},{"r":3,"c":3,"t":2.18,"a":-6.0,"b":-5.6},{"r":3,"c":3,"t":2.33,"a":-7.2,"b":-6.8},{"r":3,"c":3,"t":2.48,"a":-8.6,"b":-8.3},{"r":3,"c":3,"t":2.61,"a":-10.4,"b":-10.0},{"r":3,"c":3,"t":2.73,"a":-12.5,"b":-12.0},{"r":3,"c":3,"t":2.83,"a":-14.5,"b":-14.0},{"r":3,"c":3,"t":2.91,"a":-15.4,"b":-15.0},{"r":3,"c":3,"t":2.99,"a":-15.0,"b":-15.2},{"r":3,"c":3,"t":3.05,"a":-12.5,"b":-13.2},{"r":3,"c":3,"t":3.11,"a":-8.5,"b":-9.5},{"r":3,"c":3,"t":3.17,"a":-4.0,"b":-5.0},{"r":3,"c":3,"t":3.23,"a":1.0,"b":0.0},{"r":3,"c":3,"t":3.29,"a":6.5,"b":5.0},{"r":3,"c":3,"t":3.35,"a":11.0,"b":10.0},{"r":3,"c":3,"t":3.41,"a":7.5,"b":15.5},{"r":3,"c":3,"t":3.49,"a":4.5,"b":10.0},{"r":3,"c":3,"t":3.59,"a":3.5,"b":8.0},{"r":3,"c":3,"t":3.71,"a":2.3,"b":7.2},{"r":3,"c":3,"t":3.83,"a":1.3,"b":6.5},{"r":3,"c":3,"t":3.95,"a":0.0,"b":5.8},{"r":3,"c":3,"t":4.08,"a":-1.6,"b":5.0},
{"r":4,"c":1,"t":-0.37,"a":0.2,"b":0.1},{"r":4,"c":1,"t":-0.29,"a":-0.3,"b":-0.2},{"r":4,"c":1,"t":-0.21,"a":0.3,"b":0.4},{"r":4,"c":1,"t":-0.13,"a":-0.2,"b":-0.1},{"r":4,"c":1,"t":-0.05,"a":0.2,"b":0.0},{"r":4,"c":1,"t":0.01,"a":-0.3,"b":-0.2},{"r":4,"c":1,"t":0.06,"a":0.2,"b":0.4},{"r":4,"c":1,"t":0.11,"a":1.0,"b":0.8},{"r":4,"c":1,"t":0.17,"a":-2.0,"b":-1.5},{"r":4,"c":1,"t":0.23,"a":-0.6,"b":-0.3},{"r":4,"c":1,"t":0.31,"a":-1.2,"b":-0.9},{"r":4,"c":1,"t":0.41,"a":-0.4,"b":-0.6},{"r":4,"c":1,"t":0.53,"a":-0.9,"b":-0.7},{"r":4,"c":1,"t":0.68,"a":-0.7,"b":-0.9},{"r":4,"c":1,"t":0.83,"a":-1.0,"b":-0.8},{"r":4,"c":1,"t":0.98,"a":-0.9,"b":-1.1},{"r":4,"c":1,"t":1.13,"a":-1.3,"b":-1.2},{"r":4,"c":1,"t":1.28,"a":-1.4,"b":-1.5},{"r":4,"c":1,"t":1.43,"a":-1.6,"b":-1.5},{"r":4,"c":1,"t":1.58,"a":-1.8,"b":-1.9},{"r":4,"c":1,"t":1.73,"a":-2.1,"b":-2.0},{"r":4,"c":1,"t":1.88,"a":-2.5,"b":-2.5},{"r":4,"c":1,"t":2.03,"a":-2.8,"b":-2.7},{"r":4,"c":1,"t":2.18,"a":-3.0,"b":-3.1},{"r":4,"c":1,"t":2.33,"a":-3.4,"b":-3.3},{"r":4,"c":1,"t":2.48,"a":-3.6,"b":-3.7},{"r":4,"c":1,"t":2.61,"a":-3.9,"b":-3.8},{"r":4,"c":1,"t":2.73,"a":-4.1,"b":-4.2},{"r":4,"c":1,"t":2.83,"a":-4.3,"b":-4.2},{"r":4,"c":1,"t":2.91,"a":-4.6,"b":-4.5},{"r":4,"c":1,"t":2.99,"a":-4.9,"b":-4.7},{"r":4,"c":1,"t":3.05,"a":-5.2,"b":-5.0},{"r":4,"c":1,"t":3.11,"a":-7.0,"b":-6.5},{"r":4,"c":1,"t":3.17,"a":-9.0,"b":-8.5},{"r":4,"c":1,"t":3.23,"a":-2.0,"b":-1.5},{"r":4,"c":1,"t":3.29,"a":3.5,"b":3.0},{"r":4,"c":1,"t":3.35,"a":4.2,"b":4.5},{"r":4,"c":1,"t":3.41,"a":2.0,"b":3.0},{"r":4,"c":1,"t":3.49,"a":1.0,"b":2.5},{"r":4,"c":1,"t":3.59,"a":1.2,"b":3.0},{"r":4,"c":1,"t":3.71,"a":1.7,"b":3.5},{"r":4,"c":1,"t":3.83,"a":1.2,"b":2.8},{"r":4,"c":1,"t":3.95,"a":0.6,"b":2.0},{"r":4,"c":1,"t":4.08,"a":0.0,"b":1.5},
{"r":4,"c":2,"t":-0.37,"a":0.2,"b":0.1},{"r":4,"c":2,"t":-0.29,"a":-0.3,"b":-0.2},{"r":4,"c":2,"t":-0.21,"a":0.3,"b":0.4},{"r":4,"c":2,"t":-0.13,"a":-0.2,"b":-0.1},{"r":4,"c":2,"t":-0.05,"a":0.4,"b":0.2},{"r":4,"c":2,"t":0.01,"a":0.8,"b":0.6},{"r":4,"c":2,"t":0.06,"a":1.2,"b":1.0},{"r":4,"c":2,"t":0.11,"a":-0.5,"b":-0.3},{"r":4,"c":2,"t":0.17,"a":-0.9,"b":-0.6},{"r":4,"c":2,"t":0.23,"a":-0.4,"b":-0.5},{"r":4,"c":2,"t":0.31,"a":-1.0,"b":-0.8},{"r":4,"c":2,"t":0.41,"a":-0.7,"b":-0.9},{"r":4,"c":2,"t":0.53,"a":-1.2,"b":-1.0},{"r":4,"c":2,"t":0.68,"a":-1.1,"b":-1.3},{"r":4,"c":2,"t":0.83,"a":-1.6,"b":-1.4},{"r":4,"c":2,"t":0.98,"a":-1.4,"b":-1.6},{"r":4,"c":2,"t":1.13,"a":-2.0,"b":-1.8},{"r":4,"c":2,"t":1.28,"a":-1.9,"b":-2.1},{"r":4,"c":2,"t":1.43,"a":-2.4,"b":-2.2},{"r":4,"c":2,"t":1.58,"a":-2.4,"b":-2.6},{"r":4,"c":2,"t":1.73,"a":-2.9,"b":-2.7},{"r":4,"c":2,"t":1.88,"a":-3.0,"b":-3.2},{"r":4,"c":2,"t":2.03,"a":-3.6,"b":-3.3},{"r":4,"c":2,"t":2.18,"a":-3.8,"b":-3.9},{"r":4,"c":2,"t":2.33,"a":-4.2,"b":-4.0},{"r":4,"c":2,"t":2.48,"a":-4.5,"b":-4.6},{"r":4,"c":2,"t":2.61,"a":-4.9,"b":-4.7},{"r":4,"c":2,"t":2.73,"a":-5.2,"b":-5.2},{"r":4,"c":2,"t":2.83,"a":-5.6,"b":-5.4},{"r":4,"c":2,"t":2.91,"a":-5.8,"b":-5.7},{"r":4,"c":2,"t":2.99,"a":-6.0,"b":-5.9},{"r":4,"c":2,"t":3.05,"a":-6.3,"b":-6.2},{"r":4,"c":2,"t":3.11,"a":-8.0,"b":-7.5},{"r":4,"c":2,"t":3.17,"a":-10.2,"b":-9.8},{"r":4,"c":2,"t":3.23,"a":-3.0,"b":-3.0},{"r":4,"c":2,"t":3.29,"a":4.0,"b":3.5},{"r":4,"c":2,"t":3.35,"a":6.0,"b":6.5},{"r":4,"c":2,"t":3.41,"a":3.5,"b":4.5},{"r":4,"c":2,"t":3.49,"a":1.5,"b":3.0},{"r":4,"c":2,"t":3.59,"a":0.5,"b":2.0},{"r":4,"c":2,"t":3.71,"a":1.8,"b":3.0},{"r":4,"c":2,"t":3.83,"a":1.5,"b":3.5},{"r":4,"c":2,"t":3.95,"a":0.8,"b":2.5},{"r":4,"c":2,"t":4.08,"a":0.0,"b":1.5},
{"r":4,"c":3,"t":-0.37,"a":0.2,"b":0.1},{"r":4,"c":3,"t":-0.29,"a":-0.3,"b":-0.2},{"r":4,"c":3,"t":-0.21,"a":0.3,"b":0.4},{"r":4,"c":3,"t":-0.13,"a":-0.2,"b":-0.1},{"r":4,"c":3,"t":-0.05,"a":0.2,"b":0.0},{"r":4,"c":3,"t":0.01,"a":0.5,"b":0.4},{"r":4,"c":3,"t":0.06,"a":0.0,"b":0.1},{"r":4,"c":3,"t":0.11,"a":-1.5,"b":-1.2},{"r":4,"c":3,"t":0.17,"a":-4.0,"b":-3.5},{"r":4,"c":3,"t":0.23,"a":-3.0,"b":-2.8},{"r":4,"c":3,"t":0.31,"a":-1.8,"b":-1.6},{"r":4,"c":3,"t":0.41,"a":-1.5,"b":-1.4},{"r":4,"c":3,"t":0.53,"a":-1.6,"b":-1.4},{"r":4,"c":3,"t":0.68,"a":-1.7,"b":-1.6},{"r":4,"c":3,"t":0.83,"a":-1.9,"b":-1.7},{"r":4,"c":3,"t":0.98,"a":-2.0,"b":-2.0},{"r":4,"c":3,"t":1.13,"a":-2.3,"b":-2.2},{"r":4,"c":3,"t":1.28,"a":-2.5,"b":-2.4},{"r":4,"c":3,"t":1.43,"a":-2.8,"b":-2.6},{"r":4,"c":3,"t":1.58,"a":-3.0,"b":-2.9},{"r":4,"c":3,"t":1.73,"a":-3.3,"b":-3.2},{"r":4,"c":3,"t":1.88,"a":-3.6,"b":-3.5},{"r":4,"c":3,"t":2.03,"a":-4.0,"b":-3.9},{"r":4,"c":3,"t":2.18,"a":-4.4,"b":-4.3},{"r":4,"c":3,"t":2.33,"a":-4.8,"b":-4.7},{"r":4,"c":3,"t":2.48,"a":-5.2,"b":-5.1},{"r":4,"c":3,"t":2.61,"a":-5.6,"b":-5.5},{"r":4,"c":3,"t":2.73,"a":-6.0,"b":-5.9},{"r":4,"c":3,"t":2.83,"a":-6.4,"b":-6.2},{"r":4,"c":3,"t":2.91,"a":-6.6,"b":-6.4},{"r":4,"c":3,"t":2.99,"a":-6.8,"b":-6.6},{"r":4,"c":3,"t":3.05,"a":-7.0,"b":-6.9},{"r":4,"c":3,"t":3.11,"a":-8.5,"b":-8.0},{"r":4,"c":3,"t":3.17,"a":-11.5,"b":-11.0},{"r":4,"c":3,"t":3.23,"a":-7.0,"b":-7.5},{"r":4,"c":3,"t":3.29,"a":1.0,"b":0.5},{"r":4,"c":3,"t":3.35,"a":5.0,"b":4.5},{"r":4,"c":3,"t":3.41,"a":4.5,"b":4.5},{"r":4,"c":3,"t":3.49,"a":2.0,"b":2.5},{"r":4,"c":3,"t":3.59,"a":0.5,"b":1.0},{"r":4,"c":3,"t":3.71,"a":1.0,"b":1.2},{"r":4,"c":3,"t":3.83,"a":1.8,"b":1.8},{"r":4,"c":3,"t":3.95,"a":1.2,"b":1.0},{"r":4,"c":3,"t":4.08,"a":0.0,"b":0.2}
]},
"vconcat":[
{
"data":{"name":"right"},
"bounds":"flush",
"spacing":{"row":0,"column":5},
"facet":{"row":{"field":"r","type":"ordinal","header":null},"column":{"field":"c","type":"ordinal","header":null}},
"spec":{"width":240,"height":97,"layer":[
{"transform":[{"filter":"isValid(datum.e)"}],"mark":{"type":"rule","color":"black","strokeWidth":1.2},"encoding":{"y":{"datum":0,"type":"quantitative","axis":null}}},
{"transform":[{"filter":"isValid(datum.e)"}],"mark":{"type":"rule","color":"black","strokeWidth":1},"encoding":{"x":{"datum":3.05,"type":"quantitative"},"y":{"datum":0,"type":"quantitative","axis":null},"y2":{"datum":1.5}}},
{"transform":[{"filter":"isValid(datum.t)"}],"mark":{"type":"line","color":"#777777","strokeWidth":0.9,"strokeJoin":"round"},"encoding":{"x":{"field":"t","type":"quantitative","scale":{"domain":[-0.3,4.17],"nice":false,"zero":false},"axis":{"values":[0,3],"labelExpr":"datum.value == 0 ? 'S1' : 'S2'","title":null,"grid":false,"domainColor":"black","domainWidth":1.5,"tickColor":"black","tickWidth":1.2,"tickSize":6,"labelFont":"Liberation Sans","labelFontSize":15,"labelColor":"black","labelPadding":-1}},"y":{"field":"b","type":"quantitative","scale":{"domain":[-15,9.25],"reverse":true,"nice":false,"zero":false},"axis":null}}},
{"transform":[{"filter":"isValid(datum.t)"}],"mark":{"type":"line","color":"black","strokeWidth":1.8,"strokeJoin":"round"},"encoding":{"x":{"field":"t","type":"quantitative"},"y":{"field":"a","type":"quantitative","axis":null}}},
{"transform":[{"filter":"isValid(datum.e)"}],"mark":{"type":"text","fontSize":21,"font":"Liberation Sans","baseline":"alphabetic","align":"center","color":"black"},"encoding":{"x":{"datum":1.33,"type":"quantitative"},"y":{"datum":-6.7,"type":"quantitative","axis":null},"text":{"field":"e"}}},
{"transform":[{"filter":"isValid(datum.e) && datum.r == 4"}],"mark":{"type":"rect","color":"black"},"encoding":{"x":{"datum":3.13,"type":"quantitative"},"x2":{"datum":3.28},"y":{"datum":7.3,"type":"quantitative","axis":null},"y2":{"datum":8.1}}},
{"transform":[{"filter":"isValid(datum.e) && datum.r == 1 && datum.c == 2"}],"mark":{"type":"text","text":"Right Index Finger Extension","fontSize":27.5,"font":"Liberation Sans","align":"center","baseline":"alphabetic","color":"black"},"encoding":{"x":{"datum":1.87,"type":"quantitative"},"y":{"datum":-21.5,"type":"quantitative","axis":null}}}
]}
},
{
"data":{"name":"left"},
"bounds":"flush",
"spacing":{"row":0,"column":5},
"facet":{"row":{"field":"r","type":"ordinal","header":null},"column":{"field":"c","type":"ordinal","header":null}},
"spec":{"width":240,"height":97,"layer":[
{"transform":[{"filter":"isValid(datum.e)"}],"mark":{"type":"rule","color":"black","strokeWidth":1.2},"encoding":{"y":{"datum":0,"type":"quantitative","axis":null}}},
{"transform":[{"filter":"isValid(datum.e)"}],"mark":{"type":"rule","color":"black","strokeWidth":1},"encoding":{"x":{"datum":3.05,"type":"quantitative"},"y":{"datum":0,"type":"quantitative","axis":null},"y2":{"datum":1.5}}},
{"transform":[{"filter":"isValid(datum.t)"}],"mark":{"type":"line","color":"#777777","strokeWidth":0.9,"strokeJoin":"round"},"encoding":{"x":{"field":"t","type":"quantitative","scale":{"domain":[-0.37,4.1],"nice":false,"zero":false},"axis":{"values":[0,3],"labelExpr":"datum.value == 0 ? 'S1' : 'S2'","title":null,"grid":false,"domainColor":"black","domainWidth":1.5,"tickColor":"black","tickWidth":1.2,"tickSize":6,"labelFont":"Liberation Sans","labelFontSize":15,"labelColor":"black","labelPadding":-1}},"y":{"field":"b","type":"quantitative","scale":{"domain":[-15,9.25],"reverse":true,"nice":false,"zero":false},"axis":null}}},
{"transform":[{"filter":"isValid(datum.t)"}],"mark":{"type":"line","color":"black","strokeWidth":1.8,"strokeJoin":"round"},"encoding":{"x":{"field":"t","type":"quantitative"},"y":{"field":"a","type":"quantitative","axis":null}}},
{"transform":[{"filter":"isValid(datum.e)"}],"mark":{"type":"text","fontSize":21,"font":"Liberation Sans","baseline":"alphabetic","align":"center","color":"black"},"encoding":{"x":{"datum":1.33,"type":"quantitative"},"y":{"datum":-7.7,"type":"quantitative","axis":null},"text":{"field":"e"}}},
{"transform":[{"filter":"isValid(datum.e) && datum.r == 4"}],"mark":{"type":"rect","color":"black"},"encoding":{"x":{"datum":3.07,"type":"quantitative"},"x2":{"datum":3.22},"y":{"datum":6.5,"type":"quantitative","axis":null},"y2":{"datum":7.4}}},
{"transform":[{"filter":"isValid(datum.e) && datum.r == 1 && datum.c == 2"}],"mark":{"type":"text","text":"Left Index Finger Extension","fontSize":27.5,"font":"Liberation Sans","align":"center","baseline":"alphabetic","color":"black"},"encoding":{"x":{"datum":1.89,"type":"quantitative"},"y":{"datum":-21.25,"type":"quantitative","axis":null}}},
{"transform":[{"filter":"isValid(datum.e) && datum.r == 1 && datum.c == 3"}],"mark":{"type":"rule","color":"black","strokeWidth":1.3},"encoding":{"x":{"datum":2.33,"type":"quantitative"},"x2":{"datum":3.33},"y":{"datum":-22.75,"type":"quantitative","axis":null}}},
{"transform":[{"filter":"isValid(datum.e) && datum.r == 1 && datum.c == 3"}],"mark":{"type":"rule","color":"black","strokeWidth":1.3},"encoding":{"x":{"datum":3.33,"type":"quantitative"},"y":{"datum":-22.75,"type":"quantitative","axis":null},"y2":{"datum":-32.75}}},
{"transform":[{"filter":"isValid(datum.e) && datum.r == 1 && datum.c == 3"}],"mark":{"type":"text","text":"+","fontSize":12,"font":"Liberation Sans","align":"left","baseline":"middle","color":"black"},"encoding":{"x":{"datum":3.37,"type":"quantitative"},"y":{"datum":-22.6,"type":"quantitative","axis":null}}},
{"transform":[{"filter":"isValid(datum.e) && datum.r == 1 && datum.c == 3"}],"mark":{"type":"text","text":"-","fontSize":12,"font":"Liberation Sans","align":"left","baseline":"middle","color":"black"},"encoding":{"x":{"datum":3.39,"type":"quantitative"},"y":{"datum":-32.3,"type":"quantitative","axis":null}}},
{"transform":[{"filter":"isValid(datum.e) && datum.r == 1 && datum.c == 3"}],"mark":{"type":"text","text":"10 µV","fontSize":11,"font":"Liberation Sans","align":"left","baseline":"middle","color":"black"},"encoding":{"x":{"datum":3.39,"type":"quantitative"},"y":{"datum":-27.3,"type":"quantitative","axis":null}}},
{"transform":[{"filter":"isValid(datum.e) && datum.r == 1 && datum.c == 3"}],"mark":{"type":"text","text":"1 s","fontSize":11,"font":"Liberation Sans","align":"center","baseline":"middle","color":"black"},"encoding":{"x":{"datum":2.78,"type":"quantitative"},"y":{"datum":-19.3,"type":"quantitative","axis":null}}}
]}
}
]
}
